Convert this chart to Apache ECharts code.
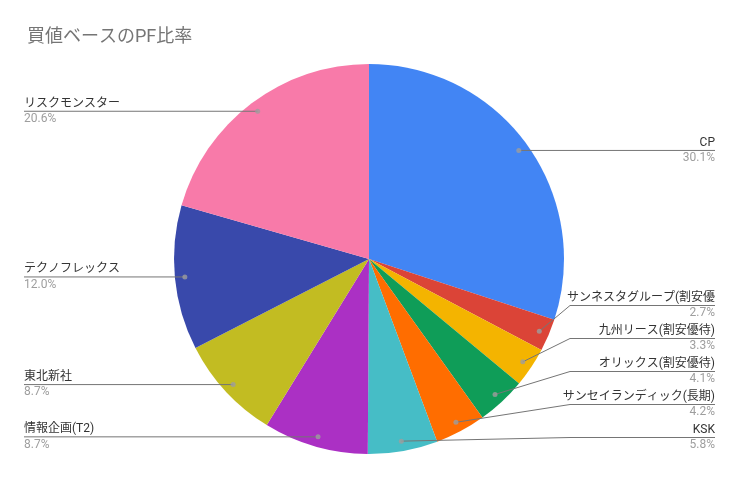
<!DOCTYPE html>
<html>
<head>
<meta charset="utf-8">
<script src="https://cdn.jsdelivr.net/npm/echarts@6/dist/echarts.min.js"></script>
<style>
html,body{margin:0;padding:0;background:#fff;}
#main{width:739px;height:478px;}
</style>
</head>
<body>
<div id="main"></div>
<script>
var categories = ['CP', 'サンネスタグループ(割安優', '九州リース(割安優待)', 'オリックス(割安優待)', 'サンセイランディック(長期)', 'KSK', '情報企画(T2)', '東北新社', 'テクノフレックス', 'リスクモンスター'];
var values = [30.1, 2.7, 3.3, 4.1, 4.2, 5.8, 8.7, 8.7, 12.0, 20.6];
var colors = ['#4285f4', '#db4437', '#f4b400', '#0f9d58', '#ff6d00', '#46bdc6', '#ab30c4', '#c2bc22', '#3949ab', '#f87aa9'];

var CENTER = [369, 259];
var RADIUS = 195;
var DOT_R = 185;
var ELBOW_DX = 201;
var FONT = "Roboto, 'Noto Sans CJK JP', sans-serif";

var total = values.reduce(function (a, b) { return a + b; }, 0);
var mids = [];
var acc = 0;
values.forEach(function (v) { mids.push(acc + v / 2); acc += v; });

var data = categories.map(function (c, i) {
  return { name: c, value: values[i], itemStyle: { color: colors[i] } };
});
var chart = echarts.init(document.getElementById('main'), null, { renderer: 'canvas' });
chart.setOption({
  animation: false,
  backgroundColor: '#ffffff',
  title: {
    text: '買値ベースのPF比率',
    left: 22,
    top: 24,
    textStyle: { fontFamily: FONT, fontSize: 18, fontWeight: 'normal', color: '#757575' }
  },
  polar: { center: CENTER, radius: RADIUS },
  angleAxis: { type: 'value', min: 0, max: total, startAngle: 90, clockwise: true, show: false },
  radiusAxis: { type: 'value', min: 0, max: RADIUS, show: false },
  series: [
    {
      type: 'pie',
      center: CENTER,
      radius: RADIUS,
      startAngle: 90,
      clockwise: true,
      silent: true,
      z: 1,
      label: { show: false },
      labelLine: { show: false },
      itemStyle: { borderWidth: 0 },
      data: data
    },
    {
      type: 'pie',
      center: CENTER,
      radius: DOT_R,
      startAngle: 90,
      clockwise: true,
      silent: true,
      z: 3,
      left: 0, top: 0, width: 739, height: 454,
      avoidLabelOverlap: true,
      itemStyle: { color: 'rgba(0,0,0,0)', borderWidth: 0 },
      label: {
        show: true,
        position: 'outer',
        alignTo: 'edge',
        edgeDistance: 24,
        overflow: 'none',
        fontFamily: FONT,
        fontSize: 12,
        lineHeight: 15.5,
        formatter: function (p) {
          return '{n|' + p.name + '}\n{p|' + p.value.toFixed(1) + '%}';
        },
        rich: {
          n: { fontFamily: FONT, fontSize: 12, color: '#333333', lineHeight: 15.5 },
          p: { fontFamily: FONT, fontSize: 12, color: '#9e9e9e', lineHeight: 15.5 }
        }
      },
      labelLine: {
        show: true,
        length: 0,
        length2: 10,
        lineStyle: { color: '#757575', width: 1 }
      },
      labelLayout: function (p) {
        var pts = p.labelLinePoints;
        if (!pts || pts.length < 3) return {};
        var r = p.labelRect;
        var y = pts[2][1];
        var right = pts[0][0] > CENTER[0];
        var endX = right ? r.x + r.width : r.x;
        var elbow = Math.abs(pts[0][1] - y) < 2 ? [pts[0][0], y] : [CENTER[0] + (right ? 1 : -1) * ELBOW_DX, y];
        return { labelLinePoints: [pts[0], elbow, [endX, y]] };
      },
      data: categories.map(function (c, i) { return { name: c, value: values[i] }; })
    },
    {
      type: 'scatter',
      coordinateSystem: 'polar',
      silent: true,
      z: 5,
      symbol: 'circle',
      symbolSize: 5,
      itemStyle: { color: '#9e9e9e' },
      data: mids.map(function (m) { return [DOT_R, m]; })
    }
  ]
});
</script>
</body>
</html>
